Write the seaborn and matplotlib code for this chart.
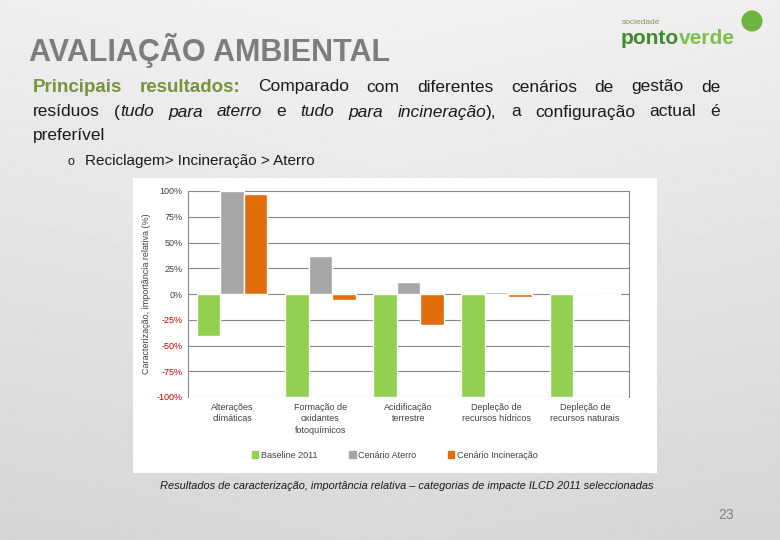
import numpy as np
import pandas as pd
import seaborn as sns
import matplotlib.pyplot as plt
from matplotlib.patches import Rectangle, Ellipse
from matplotlib.ticker import FuncFormatter

# Dados
categorias = ["Alterações\nclimáticas", "Formação de\noxidantes\nfotoquímicos",
              "Acidificação\nterrestre", "Depleção de\nrecursos hídricos",
              "Depleção de\nrecursos naturais"]
cenarios = ["Baseline 2011", "Cenário Aterro", "Cenário Incineração"]
baseline = [-41, -100, -100, -100, -100]
aterro = [100, 37, 12, 2, 0]
incineracao = [97, -6, -30, -3, -0.6]
cores = ["#92d050", "#a6a6a6", "#e36c0a"]

df = pd.DataFrame({
    "Categoria": categorias * 3,
    "Cenario": [c for c in cenarios for _ in categorias],
    "Valor": baseline + aterro + incineracao,
})

sns.set_theme(style="white")
plt.rcParams["font.family"] = ["Liberation Sans", "DejaVu Sans"]

fig = plt.figure(figsize=(7.8, 5.4), dpi=100)

# fundo cinzento em gradiente
bg = fig.add_axes([0, 0, 1, 1], zorder=-10)
yy, xx = np.mgrid[0:1:200j, 0:1:300j]
grad = 0.95 - 0.10 * yy - 0.03 * np.abs(xx - 0.5)
bg.imshow(grad, cmap="gray", vmin=0, vmax=1, aspect="auto", extent=[0, 1, 0, 1])
bg.axis("off")

# painel branco do gráfico
fig.patches.append(Rectangle((133 / 780, 1 - 473 / 540), 524 / 780, 295 / 540,
                             transform=fig.transFigure, facecolor="white",
                             edgecolor="none", zorder=-5))

ax = fig.add_axes([188 / 780, 1 - 397 / 540, 441 / 780, 206 / 540])
sns.barplot(data=df, x="Categoria", y="Valor", hue="Cenario", palette=cores,
            width=0.8, saturation=1, ax=ax, legend=False)
ax.set_ylim(-100, 100)
ax.set_yticks(range(-100, 101, 25))
ax.yaxis.set_major_formatter(FuncFormatter(lambda v, p: f"{int(v)}%"))
ax.grid(axis="y", color="#868686", linewidth=0.8)
ax.set_axisbelow(True)
for s in ["top", "bottom"]:
    ax.spines[s].set_visible(False)
for s in ["left", "right"]:
    ax.spines[s].set_color("#868686")
    ax.spines[s].set_linewidth(0.8)
ax.set_facecolor("white")
ax.set_xlabel("")
ax.set_ylabel("Caracterização, importância relativa (%)", fontsize=6.5, color="#404040")
ax.tick_params(axis="both", labelsize=6.5, colors="#404040", length=0, pad=4)
for lbl in ax.get_yticklabels():
    if "-" in lbl.get_text() or "−" in lbl.get_text():
        lbl.set_color("#c00000")
ax.set_xticks(range(len(categorias)))
ax.set_xticklabels(categorias, linespacing=1.4)

# legenda
handles = [Rectangle((0, 0), 1, 1, color=c) for c in cores]
fig.legend(handles, cenarios, loc="center", bbox_to_anchor=(395 / 780, 1 - 455 / 540),
           ncol=3, frameon=False, fontsize=6.5, handlelength=0.7, handleheight=0.7,
           handletextpad=0.3, columnspacing=3.5, labelcolor="#404040")

# título
fig.text(29 / 780, 1 - 50 / 540, "AVALIAÇÃO AMBIENTAL", fontsize=22, color="#7d7d7d",
         weight="bold", va="center")

# logótipo
fig.text(622 / 780, 1 - 22 / 540, "sociedade", fontsize=6, color="#7f9a50", va="center")
fig.text(621 / 780, 1 - 39 / 540, "ponto", fontsize=15, color="#3d8b2b",
         weight="bold", va="center")
fig.text(679 / 780, 1 - 39 / 540, "verde", fontsize=15, color="#7cc04b",
         weight="bold", va="center")
fig.patches.append(Ellipse((752 / 780, 1 - 21 / 540), 21 / 780, 21 / 540,
                           transform=fig.transFigure, facecolor="#6cb33f",
                           edgecolor="none"))

# texto justificado: (palavra, estilo, colada à anterior)
linhas = [
    [("Principais", "g", False), ("resultados:", "g", False), ("Comparado", "n", False),
     ("com", "n", False), ("diferentes", "n", False), ("cenários", "n", False),
     ("de", "n", False), ("gestão", "n", False), ("de", "n", False)],
    [("resíduos", "n", False), ("(", "n", False), ("tudo", "i", True), ("para", "i", False),
     ("aterro", "i", False), ("e", "n", False), ("tudo", "i", False), ("para", "i", False),
     ("incineração", "i", False), ("),", "n", True), ("a", "n", False),
     ("configuração", "n", False), ("actual", "n", False), ("é", "n", False)],
]
estilos = {"g": dict(color="#77933c", weight="bold", fontsize=13.5),
           "n": dict(color="#1a1a1a", fontsize=12.5),
           "i": dict(color="#1a1a1a", style="italic", fontsize=12.5)}
x0, x1 = 33, 720
fig.canvas.draw()
r = fig.canvas.get_renderer()
for i, linha in enumerate(linhas):
    y = 1 - (87 + 25 * i) / 540
    arts = [fig.text(0, y, w, va="center", **estilos[st]) for w, st, _ in linha]
    larg = [t.get_window_extent(r).width for t in arts]
    gaps = sum(1 for _, _, cola in linha[1:] if not cola)
    esp = (x1 - x0 - sum(larg)) / gaps
    x = x0
    for k, (t, wd) in enumerate(zip(arts, larg)):
        if k > 0 and not linha[k][2]:
            x += esp
        t.set_x(x / 780)
        x += wd
fig.text(33 / 780, 1 - 136 / 540, "preferível", fontsize=12.5, color="#1a1a1a", va="center")
fig.text(67 / 780, 1 - 162 / 540, "o", fontsize=9, color="#1a1a1a", va="center")
fig.text(85 / 780, 1 - 161 / 540, "Reciclagem> Incineração > Aterro", fontsize=11,
         color="#1a1a1a", va="center")

# legenda da figura
fig.text(160 / 780, 1 - 486 / 540,
         "Resultados de caracterização, importância relativa – categorias de impacte ILCD 2011 seleccionadas",
         fontsize=7.9, style="italic", color="#1a1a1a", va="center")
fig.text(726 / 780, 1 - 515 / 540, "23", fontsize=10, color="#7f7f7f", va="center", ha="center")

fig.savefig("out.png", dpi=100)
